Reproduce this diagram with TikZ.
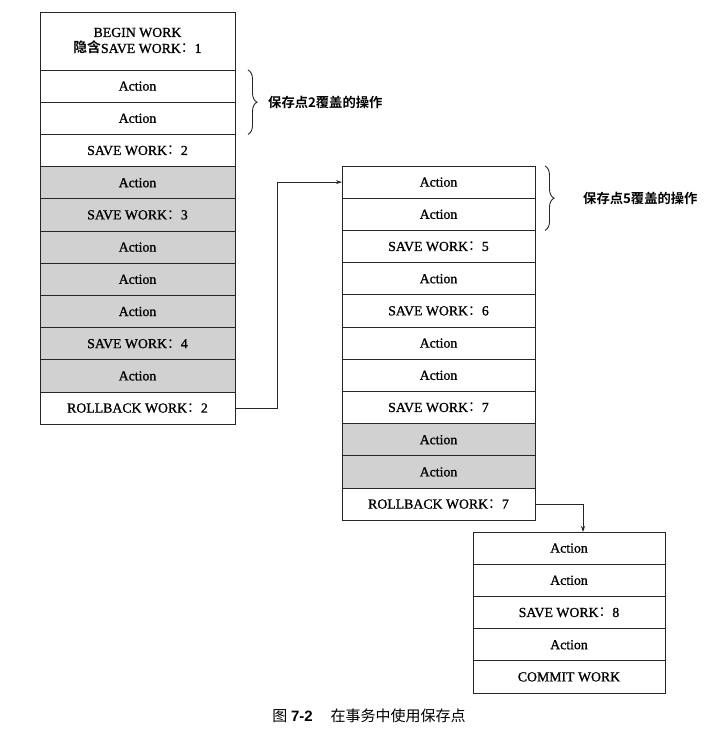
\documentclass[tikz,border=0pt]{standalone}
\usepackage{fontspec}
\setmainfont{Liberation Serif}
\newfontfamily\boxfont[FakeBold=1]{Liberation Serif}
\newfontfamily\cjk{Noto Sans CJK SC}
\newfontfamily\cjkb{Noto Sans CJK SC Bold}
\usetikzlibrary{positioning,calc,arrows.meta,decorations.pathreplacing}
\newcommand{\cc}{{\cjk ：}}
\tikzset{
  row/.style={draw=black!85, line width=0.9pt, inner sep=0pt, outer sep=0pt,
    minimum height=32.2pt, font=\boxfont\fontsize{13.8}{15}\selectfont, fill=white},
  lrow/.style={row, minimum width=195pt},
  mrow/.style={row, minimum width=193pt},
  rrow/.style={row, minimum width=192pt},
  shade/.style={fill=black!18},
  conn/.style={draw=black!85, line width=0.9pt, -{Stealth[length=6pt,width=4pt]}},
  bracestyle/.style={draw=black!85, line width=0.9pt, decorate, decoration={brace, amplitude=9pt}},
  blabel/.style={anchor=west, font=\cjkb\fontsize{13.3}{15}\selectfont, inner sep=0pt}
}
\begin{document}
\begin{tikzpicture}[x=1pt,y=-1pt]
\useasboundingbox (0,0) rectangle (720,729);
% left column
\node[lrow, minimum height=58pt, align=center, font=\boxfont\fontsize{13.8}{16}\selectfont] (L0) at (137.5,41) {BEGIN WORK\\{\cjkb 隐含}SAVE WORK\cc1};
\node[lrow, below=0pt of L0] (L1) {Action};
\node[lrow, below=0pt of L1] (L2) {Action};
\node[lrow, below=0pt of L2] (L3) {SAVE WORK\cc2};
\node[lrow, shade, below=0pt of L3] (L4) {Action};
\node[lrow, shade, below=0pt of L4] (L5) {SAVE WORK\cc3};
\node[lrow, shade, below=0pt of L5] (L6) {Action};
\node[lrow, shade, below=0pt of L6] (L7) {Action};
\node[lrow, shade, below=0pt of L7] (L8) {Action};
\node[lrow, shade, below=0pt of L8] (L9) {SAVE WORK\cc4};
\node[lrow, shade, below=0pt of L9] (L10) {Action};
\node[lrow, below=0pt of L10] (L11) {ROLLBACK WORK\cc2};
% middle column
\node[mrow] (M1) at (438.5,182.1) {Action};
\node[mrow, below=0pt of M1] (M2) {Action};
\node[mrow, below=0pt of M2] (M3) {SAVE WORK\cc5};
\node[mrow, below=0pt of M3] (M4) {Action};
\node[mrow, below=0pt of M4] (M5) {SAVE WORK\cc6};
\node[mrow, below=0pt of M5] (M6) {Action};
\node[mrow, below=0pt of M6] (M7) {Action};
\node[mrow, below=0pt of M7] (M8) {SAVE WORK\cc7};
\node[mrow, shade, below=0pt of M8] (M9) {Action};
\node[mrow, shade, below=0pt of M9] (M10) {Action};
\node[mrow, below=0pt of M10] (M11) {ROLLBACK WORK\cc7};
% right column
\node[rrow] (R1) at (569,548.1) {Action};
\node[rrow, below=0pt of R1] (R2) {Action};
\node[rrow, below=0pt of R2] (R3) {SAVE WORK\cc8};
\node[rrow, below=0pt of R3] (R4) {Action};
\node[rrow, below=0pt of R4] (R5) {COMMIT WORK};
% connectors
\draw[conn] (L11.east) -- ++(42,0) |- (M1.west);
\coordinate (R1in) at ($(R1.north)+(14,0)$);
\draw[conn] (M11.east) -| (R1in);
% braces
\coordinate (b1a) at ($(L1.north east)+(13,0)$);
\coordinate (b1b) at ($(L2.south east)+(13,0)$);
\draw[bracestyle] (b1a) -- (b1b);
\node[blabel] (t1) at ($(L1.south east)+(33,0)$) {保存点2覆盖的操作};
\coordinate (b2a) at ($(M1.north east)+(10,0)$);
\coordinate (b2b) at ($(M2.south east)+(10,0)$);
\draw[bracestyle] (b2a) -- (b2b);
\node[blabel] (t2) at ($(M1.south east)+(48,0)$) {保存点5覆盖的操作};
% caption
\node[font=\fontsize{15}{17}\selectfont, inner sep=0pt] (cap) at (369,716) {{\cjk 图} \textbf{\fontspec{Liberation Sans}7-2}\hspace{1.2em}{\cjk 在事务中使用保存点}};
\end{tikzpicture}
\end{document}
